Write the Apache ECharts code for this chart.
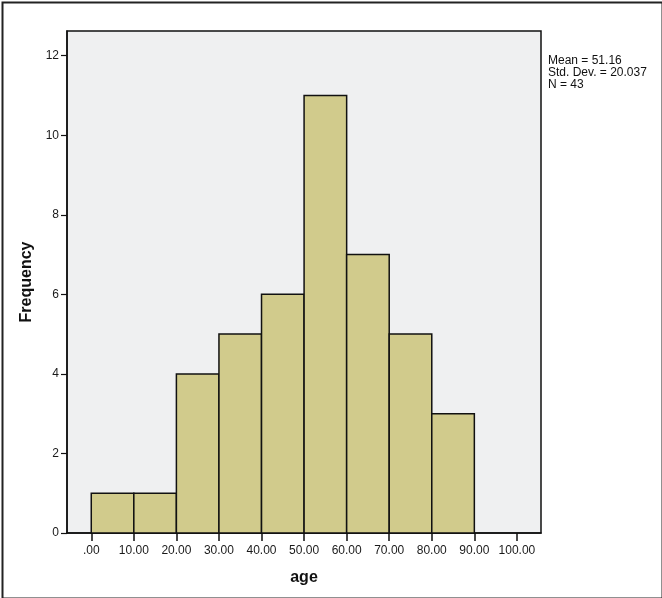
<!DOCTYPE html>
<html>
<head>
<meta charset="utf-8">
<script src="https://cdn.jsdelivr.net/npm/echarts@6/dist/echarts.min.js"></script>
<style>html,body{margin:0;padding:0;background:#fff}#c{width:662px;height:598px}</style>
</head>
<body>
<div id="c"></div>
<script>
var binStarts = [0, 10, 20, 30, 40, 50, 60, 70, 80];
var binWidth = 10;
var frequencies = [1, 1, 4, 5, 6, 11, 7, 5, 3];
var xTickValues = [0, 10, 20, 30, 40, 50, 60, 70, 80, 90, 100];
var yTickValues = [0, 2, 4, 6, 8, 10, 12];
var statsLines = ['Mean = 51.16', 'Std. Dev. = 20.037', 'N = 43'];

var data = binStarts.map(function (s, i) { return [s, s + binWidth, frequencies[i]]; });

var chart = echarts.init(document.getElementById('c'), null, { renderer: 'canvas' });
var font = 'Arial, "Liberation Sans", sans-serif';
chart.setOption({
  animation: false,
  grid: {
    left: 67, top: 31, right: 121, bottom: 65,
    show: true, backgroundColor: '#eff0f1', borderColor: '#111', borderWidth: 1.5
  },
  xAxis: {
    type: 'value', min: -5.7, max: 105.66,
    name: 'age', nameLocation: 'middle', nameGap: 37,
    nameTextStyle: { fontFamily: font, fontSize: 16, fontWeight: 'bold', color: '#111' },
    axisLine: { show: true, onZero: false, lineStyle: { color: '#111', width: 1.5 } },
    axisTick: { show: true, length: 8, customValues: xTickValues, lineStyle: { color: '#111', width: 1.5 } },
    axisLabel: {
      customValues: xTickValues, fontFamily: font, fontSize: 12, color: '#1a1a1a', margin: 12,
      formatter: function (v) { return v === 0 ? '.00' : v.toFixed(2); }
    },
    splitLine: { show: false }
  },
  yAxis: {
    type: 'value', min: 0, max: 12.62,
    name: 'Frequency', nameLocation: 'middle', nameGap: 30,
    nameTextStyle: { fontFamily: font, fontSize: 16, fontWeight: 'bold', color: '#111' },
    axisLine: { show: true, onZero: false, lineStyle: { color: '#111', width: 1.5 } },
    axisTick: { show: true, length: 6, customValues: yTickValues, lineStyle: { color: '#111', width: 1.2 } },
    axisLabel: { customValues: yTickValues, fontFamily: font, fontSize: 12, color: '#1a1a1a', margin: 8 },
    splitLine: { show: false }
  },
  series: [{
    type: 'custom',
    data: data,
    encode: { x: [0, 1], y: 2 },
    renderItem: function (params, api) {
      var p0 = api.coord([api.value(0), 0]);
      var p1 = api.coord([api.value(1), api.value(2)]);
      return {
        type: 'rect',
        shape: { x: p0[0], y: p1[1], width: p1[0] - p0[0], height: p0[1] - p1[1] },
        style: { fill: '#d1cb8c', stroke: '#111', lineWidth: 1.5 }
      };
    }
  }],
  graphic: [
    {
      type: 'rect', left: 0, top: 0, silent: true,
      shape: { x: 1, y: 1, width: 660, height: 596 },
      style: { fill: null, stroke: '#222', lineWidth: 2 }
    },
    {
      type: 'text', left: 548, top: 55,
      style: { text: statsLines.join('\n'), fontFamily: font, fontSize: 12, lineHeight: 12, fill: '#111' }
    }
  ]
});
</script>
</body>
</html>
